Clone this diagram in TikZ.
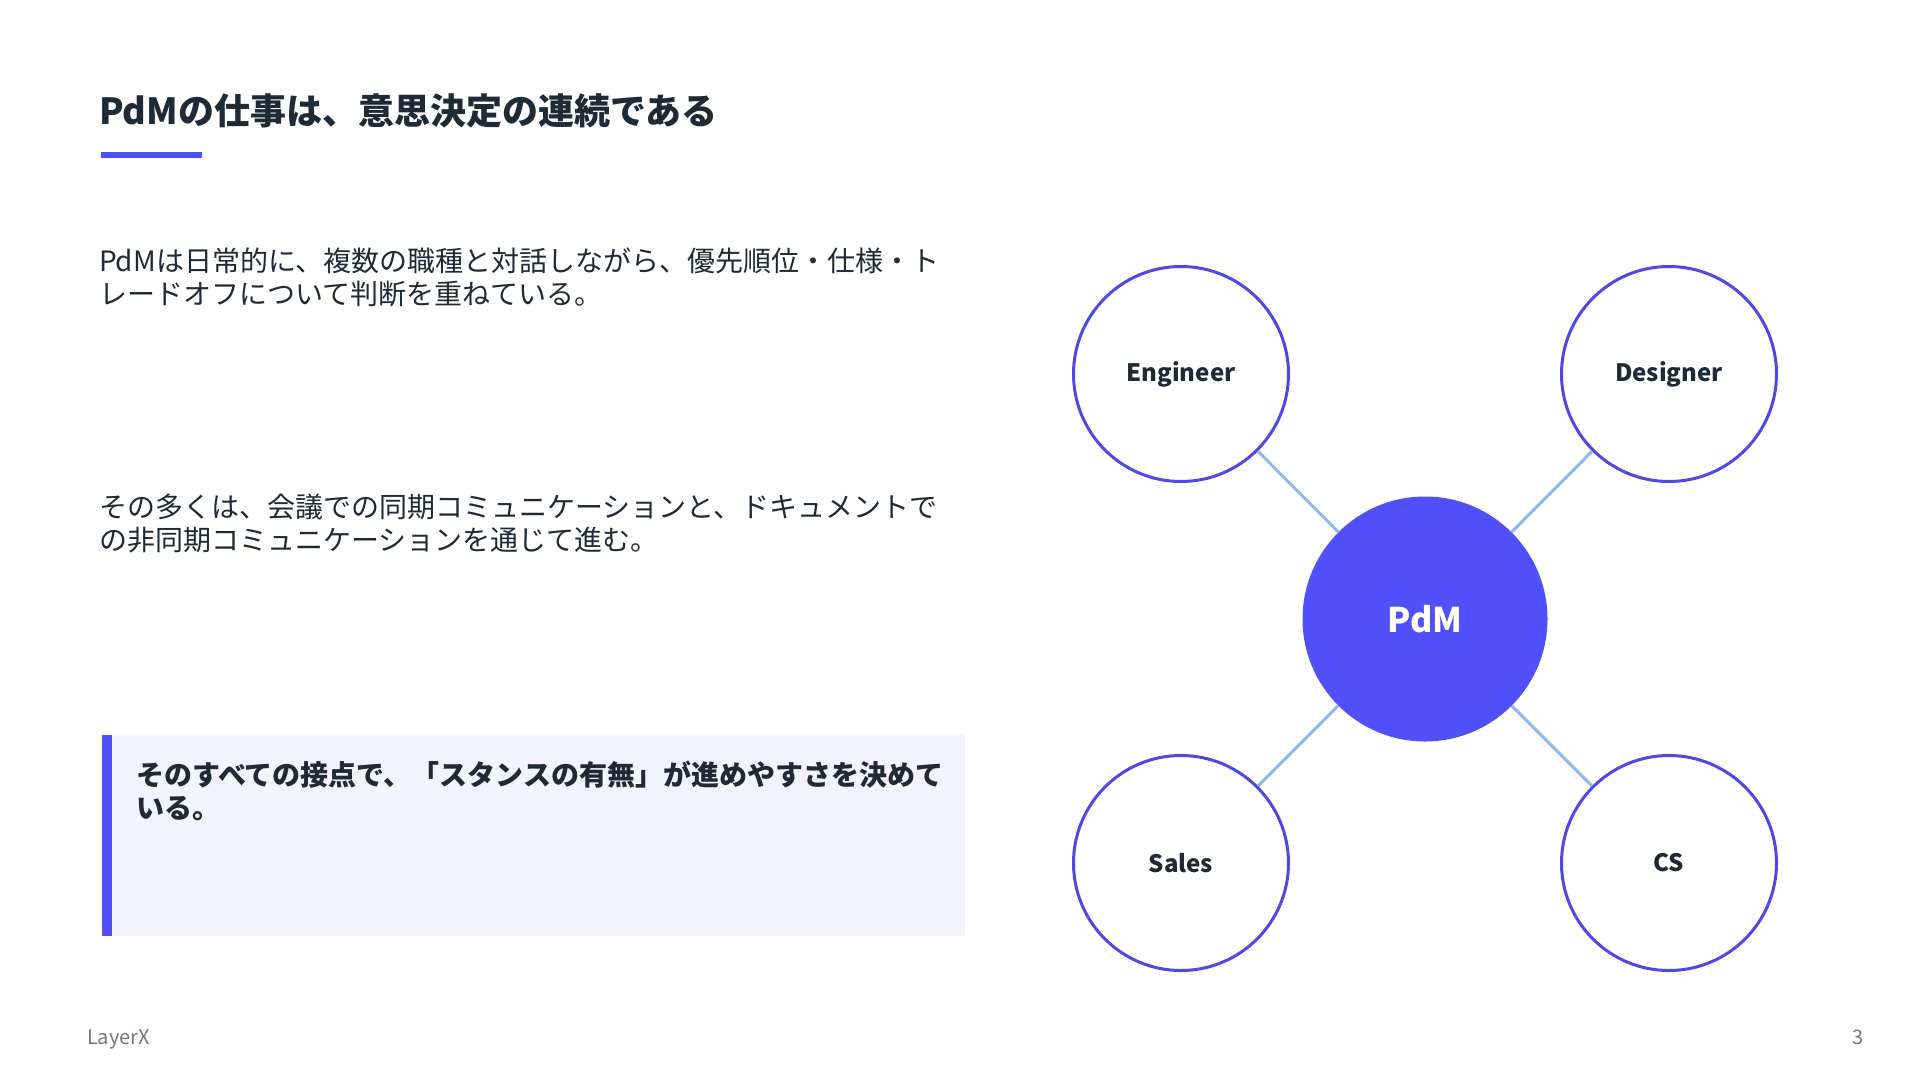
\documentclass[tikz,border=0pt]{standalone}
\usepackage{fontspec}
\setmainfont{Noto Sans CJK JP}
\definecolor{ink}{HTML}{1E2A35}
\definecolor{accent}{HTML}{5048E6}
\definecolor{pdmfill}{HTML}{5050FA}
\definecolor{link}{HTML}{8CB8F0}
\definecolor{calloutbg}{HTML}{F3F3FC}
\definecolor{footgrey}{HTML}{707780}
\tikzset{
  txt/.style={inner sep=0pt, outer sep=0pt, text=ink, align=left},
  role/.style={circle, draw=accent, line width=3pt, fill=white, minimum size=215pt, inner sep=0pt, text=ink, font=\fontsize{24}{28}\selectfont\bfseries},
  hub/.style={circle, fill=pdmfill, minimum size=245pt, inner sep=0pt, text=white, font=\fontsize{34}{40}\selectfont\bfseries},
  linkline/.style={draw=link, line width=3pt},
}
\begin{document}
\begin{tikzpicture}[x=1pt,y=-1pt]
\useasboundingbox[fill=white] (0,0) rectangle (1920,1080);
% title
\node[txt, anchor=base west, font=\fontsize{36}{44}\selectfont\bfseries] (title) at (99,124) {PdMの仕事は、意思決定の連続である};
\fill[pdmfill] (101,152) rectangle (202,158);
% paragraphs (base = last line)
\node[txt, anchor=base west, font=\fontsize{28}{33}\selectfont] (p1) at (99,304)
  {PdMは日常的に、複数の職種と対話しながら、優先順位・仕様・ト\\レードオフについて判断を重ねている。};
\node[txt, anchor=base west, font=\fontsize{28}{33}\selectfont] (p2) at (99,550)
  {その多くは、会議での同期コミュニケーションと、ドキュメントで\\の非同期コミュニケーションを通じて進む。};
% callout
\fill[calloutbg] (102,735) rectangle (965,936);
\fill[pdmfill] (102,735) rectangle (112,936);
\node[txt, anchor=base west, font=\fontsize{28}{33}\selectfont\bfseries] (call) at (136,818)
  {そのすべての接点で、「スタンスの有無」が進めやすさを決めて\\いる。};
% diagram
\node[hub] (pdm) at (1425,619) {PdM};
\node[role] (eng) at (1181,374) {Engineer};
\node[role] (des) at (1669,374) {Designer};
\node[role] (sal) at (1181,863) {Sales};
\node[role] (cs) at (1669,863) {CS};
\draw[linkline] (pdm) -- (eng);
\draw[linkline] (pdm) -- (des);
\draw[linkline] (pdm) -- (sal);
\draw[linkline] (pdm) -- (cs);
% footer
\node[txt, anchor=base west, text=footgrey, font=\fontsize{20}{24}\selectfont] (foot) at (87,1044) {LayerX};
\node[txt, anchor=base east, text=footgrey, font=\fontsize{20}{24}\selectfont] (page) at (1864,1044) {3};
\end{tikzpicture}
\end{document}
